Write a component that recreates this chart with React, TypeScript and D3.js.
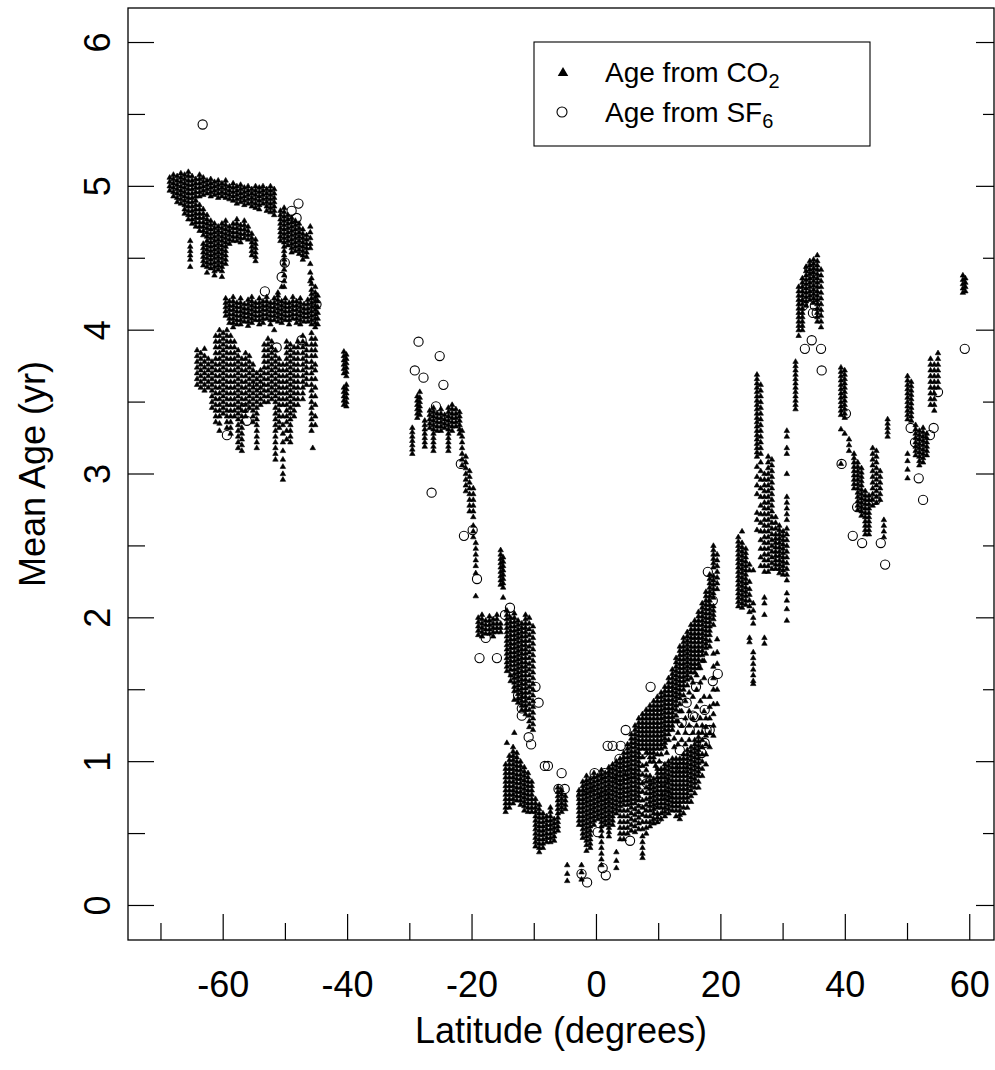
import React from "react";
import * as d3 from "d3";

const W = 995;
const H = 1070;
const frame = { left: 128, top: 8, right: 994, bottom: 940 };

const latDomain: [number, number] = [-75.3, 63.9];
const ageDomain: [number, number] = [-0.24, 6.24];

const latMajorTicks = [-60, -40, -20, 0, 20, 40, 60];
const latMinorTicks = [-70, -50, -30, -10, 10, 30, 50];
const ageMajorTicks = [0, 1, 2, 3, 4, 5, 6];
const ageMinorTicks = [0.5, 1.5, 2.5, 3.5, 4.5, 5.5];

// CO2-derived ages, one aircraft profile column per row: [latitude, ...ages]
const co2PolarUpper: number[][] = [
  [-68.6, 5.06, 5.03, 5.0, 4.97],
  [-68.0, 5.08, 5.05, 5.02, 4.99, 4.96, 4.93],
  [-67.4, 5.07, 5.04, 5.01, 4.98, 4.95, 4.92, 4.89],
  [-66.8, 5.09, 5.06, 5.03, 5.0, 4.97, 4.94, 4.91, 4.88],
  [-66.2, 5.08, 5.05, 5.02, 4.99, 4.96, 4.93, 4.9, 4.87, 4.84, 4.81],
  [-65.6, 5.1, 5.07, 5.04, 5.01, 4.98, 4.95, 4.92, 4.89, 4.86, 4.83, 4.8, 4.77],
  [-65.3, 4.62, 4.58, 4.55, 4.52, 4.49, 4.44],
  [-65.0, 5.07, 5.04, 5.01, 4.98, 4.95, 4.92, 4.89, 4.86, 4.83, 4.8, 4.77, 4.74],
  [-64.4, 5.05, 5.02, 4.99, 4.96, 4.93, 4.9, 4.87, 4.84, 4.81, 4.78, 4.75, 4.72],
  [-63.8, 5.08, 5.05, 5.02, 4.99, 4.96, 4.93, 4.87, 4.84, 4.81, 4.78, 4.75, 4.72, 4.69],
  [-63.2, 5.06, 5.03, 5.0, 4.97, 4.94, 4.84, 4.81, 4.78, 4.75, 4.72, 4.69, 4.66, 4.6, 4.57, 4.54, 4.51, 4.48, 4.45],
  [-62.6, 5.04, 5.01, 4.98, 4.95, 4.8, 4.77, 4.74, 4.71, 4.68, 4.65, 4.62, 4.59, 4.56, 4.53, 4.5, 4.47, 4.44, 4.4],
  [-62.0, 5.05, 5.02, 4.99, 4.96, 4.93, 4.76, 4.73, 4.7, 4.67, 4.64, 4.61, 4.58, 4.55, 4.52, 4.49, 4.46, 4.43],
  [-61.4, 5.03, 5.0, 4.97, 4.94, 4.74, 4.71, 4.68, 4.65, 4.62, 4.59, 4.56, 4.53, 4.5, 4.47, 4.44, 4.41, 4.38],
  [-60.8, 5.04, 5.01, 4.98, 4.95, 4.92, 4.72, 4.69, 4.66, 4.63, 4.6, 4.57, 4.54, 4.51, 4.48, 4.45, 4.42],
  [-60.2, 5.02, 4.99, 4.96, 4.93, 4.74, 4.71, 4.68, 4.65, 4.62, 4.59, 4.56, 4.53, 4.5, 4.47, 4.44, 4.41, 4.37],
  [-59.6, 5.04, 5.01, 4.98, 4.95, 4.92, 4.76, 4.73, 4.7, 4.67, 4.64, 4.61, 4.58, 4.55, 4.52, 4.49, 4.46],
  [-59.0, 5.0, 4.97, 4.94, 4.91, 4.72, 4.69, 4.66, 4.63, 4.6],
  [-58.4, 5.02, 4.99, 4.96, 4.93, 4.9, 4.74, 4.71, 4.68, 4.65, 4.62],
  [-57.8, 5.0, 4.97, 4.94, 4.91, 4.88, 4.77, 4.74, 4.71, 4.68, 4.65, 4.62],
  [-57.2, 5.01, 4.98, 4.95, 4.92, 4.89, 4.73, 4.7, 4.67, 4.64, 4.61],
  [-56.6, 4.99, 4.96, 4.93, 4.9, 4.87, 4.76, 4.73, 4.7, 4.67, 4.64],
  [-56.0, 5.0, 4.97, 4.94, 4.91, 4.88, 4.72, 4.69, 4.66, 4.63],
  [-55.4, 4.98, 4.95, 4.92, 4.89, 4.86, 4.67, 4.64, 4.61, 4.58, 4.55, 4.52],
  [-54.8, 5.0, 4.97, 4.94, 4.91, 4.88, 4.85, 4.63, 4.6, 4.57, 4.54, 4.51, 4.48],
  [-54.2, 4.99, 4.96, 4.93, 4.9, 4.87, 4.84],
  [-53.6, 5.0, 4.97, 4.94, 4.91, 4.88],
  [-53.0, 4.98, 4.95, 4.92, 4.89, 4.86, 4.83],
  [-52.4, 5.0, 4.97, 4.94, 4.91, 4.88, 4.85, 4.82],
  [-51.8, 4.98, 4.95, 4.92, 4.89, 4.86, 4.83, 4.8],
  [-50.8, 4.83, 4.8, 4.77, 4.74, 4.71, 4.68, 4.65, 4.62],
  [-50.2, 4.85, 4.82, 4.79, 4.76, 4.73, 4.7, 4.67, 4.64, 4.61, 4.58, 4.55, 4.52, 4.49, 4.46, 4.42, 4.38, 4.34, 4.3],
  [-49.6, 4.8, 4.77, 4.74, 4.71, 4.68, 4.65, 4.62, 4.59],
  [-49.0, 4.78, 4.75, 4.72, 4.69, 4.66, 4.63, 4.6, 4.57, 4.54],
  [-48.4, 4.76, 4.73, 4.7, 4.67, 4.64, 4.61, 4.58, 4.55],
  [-47.8, 4.74, 4.71, 4.68, 4.65, 4.62, 4.59, 4.56, 4.53],
  [-47.2, 4.7, 4.67, 4.64, 4.61, 4.58, 4.55, 4.52, 4.49],
  [-46.6, 4.66, 4.63, 4.6, 4.57, 4.54, 4.51],
  [-46.0, 4.72, 4.68, 4.64, 4.6, 4.57, 4.46, 4.4, 4.34],
];

const co2PolarLower: number[][] = [
  [-59.6, 4.22, 4.19, 4.16, 4.13, 4.1],
  [-59.0, 4.2, 4.17, 4.14, 4.11, 4.08, 4.05],
  [-58.4, 4.23, 4.2, 4.17, 4.14, 4.11, 4.08, 4.05, 4.02],
  [-57.8, 4.19, 4.16, 4.13, 4.1, 4.07, 4.04],
  [-57.2, 4.22, 4.19, 4.16, 4.13, 4.1, 4.07, 4.04],
  [-56.6, 4.18, 4.15, 4.12, 4.09, 4.06],
  [-56.0, 4.21, 4.18, 4.15, 4.12, 4.09, 4.06, 4.03],
  [-55.4, 4.23, 4.2, 4.17, 4.14, 4.11, 4.08, 4.05],
  [-54.8, 4.19, 4.16, 4.13, 4.1, 4.07],
  [-54.2, 4.22, 4.19, 4.16, 4.13, 4.1, 4.07, 4.04],
  [-53.6, 4.2, 4.17, 4.14, 4.11, 4.08, 4.05],
  [-53.0, 4.23, 4.2, 4.17, 4.14, 4.11, 4.08],
  [-52.4, 4.19, 4.16, 4.13, 4.1, 4.07, 4.04],
  [-51.8, 4.22, 4.19, 4.16, 4.13, 4.1, 4.07, 4.0],
  [-51.2, 4.26, 4.24, 4.21, 4.18, 4.15, 4.12, 4.09, 4.06],
  [-50.6, 4.3, 4.2, 4.17, 4.14, 4.11, 4.08, 4.05],
  [-50.0, 4.22, 4.19, 4.16, 4.13, 4.1, 4.07],
  [-49.4, 4.19, 4.16, 4.13, 4.1, 4.07, 4.04],
  [-48.8, 4.23, 4.2, 4.17, 4.14, 4.11, 4.08],
  [-48.2, 4.2, 4.17, 4.14, 4.11, 4.08, 4.05],
  [-47.6, 4.22, 4.19, 4.16, 4.13, 4.1, 4.07, 4.04],
  [-47.0, 4.18, 4.15, 4.12, 4.09, 4.06],
  [-46.4, 4.21, 4.18, 4.15, 4.12, 4.09, 4.06],
  [-45.8, 4.36, 4.32, 4.28, 4.25, 4.22, 4.19, 4.16, 4.13, 4.1, 4.07, 4.04],
  [-45.2, 4.3, 4.26, 4.23, 4.2, 4.17, 4.14, 4.11, 4.08, 4.05, 4.02],
  [-44.8, 4.24, 4.2, 4.16, 4.12, 4.08, 4.04],
  [-47.2, 3.96, 3.92, 3.88, 3.84, 3.8, 3.76, 3.72, 3.68, 3.64, 3.6, 3.56, 3.52],
  [-46.6, 3.9, 3.86, 3.82, 3.78, 3.74, 3.7, 3.66, 3.62],
  [-45.8, 3.98, 3.94, 3.9, 3.86, 3.82, 3.78, 3.74, 3.7, 3.66, 3.62, 3.58, 3.54, 3.5, 3.46, 3.42, 3.38, 3.34, 3.3],
  [-45.2, 3.94, 3.9, 3.86, 3.82, 3.76, 3.72, 3.66, 3.6, 3.54, 3.48, 3.4, 3.34],
  [-45.6, 3.18],
  [-64.2, 3.86, 3.82, 3.78, 3.74, 3.7, 3.66, 3.62],
  [-63.6, 3.84, 3.8, 3.76, 3.72, 3.68, 3.64, 3.6],
  [-63.0, 3.87, 3.82, 3.78, 3.74, 3.7, 3.66, 3.62, 3.58],
  [-62.4, 3.8, 3.76, 3.72, 3.68, 3.64, 3.6],
  [-61.8, 3.78, 3.74, 3.7, 3.66, 3.62, 3.58, 3.54, 3.5, 3.46],
  [-61.2, 3.96, 3.92, 3.88, 3.84, 3.8, 3.76, 3.72, 3.68, 3.64, 3.6, 3.56, 3.52, 3.48, 3.44, 3.4, 3.36],
  [-60.6, 4.0, 3.96, 3.92, 3.88, 3.84, 3.8, 3.76, 3.72, 3.68, 3.64, 3.6, 3.56, 3.52, 3.48, 3.44, 3.4, 3.35, 3.3],
  [-60.0, 3.98, 3.94, 3.9, 3.86, 3.82, 3.78, 3.74, 3.7, 3.66, 3.62, 3.58, 3.54, 3.5, 3.46, 3.42],
  [-59.4, 4.0, 3.96, 3.92, 3.88, 3.84, 3.8, 3.76, 3.72, 3.68, 3.64, 3.6, 3.56, 3.52, 3.48, 3.44, 3.4, 3.36, 3.32],
  [-58.8, 3.96, 3.92, 3.88, 3.84, 3.8, 3.76, 3.72, 3.68, 3.64, 3.6, 3.56, 3.52, 3.48, 3.44, 3.4, 3.36, 3.32, 3.28],
  [-58.2, 3.92, 3.88, 3.84, 3.8, 3.76, 3.72, 3.68, 3.64, 3.6, 3.56, 3.52, 3.48, 3.44, 3.4],
  [-57.6, 3.86, 3.82, 3.78, 3.74, 3.7, 3.66, 3.62, 3.58, 3.54, 3.5, 3.46, 3.42, 3.38, 3.34, 3.3, 3.26, 3.22, 3.18],
  [-57.0, 3.8, 3.76, 3.72, 3.68, 3.64, 3.6, 3.56, 3.52, 3.48, 3.44, 3.4, 3.36, 3.32, 3.28, 3.24, 3.2, 3.16],
  [-56.4, 3.84, 3.8, 3.76, 3.72, 3.68, 3.64, 3.6, 3.56, 3.52, 3.48, 3.44, 3.4],
  [-55.8, 3.82, 3.78, 3.74, 3.7, 3.66, 3.62, 3.58, 3.54, 3.5, 3.46],
  [-55.2, 3.76, 3.72, 3.68, 3.64, 3.6, 3.56, 3.52, 3.48, 3.44, 3.4, 3.36],
  [-54.6, 3.7, 3.66, 3.62, 3.58, 3.54, 3.5, 3.46, 3.42, 3.38, 3.34, 3.3, 3.26, 3.22, 3.18],
  [-54.0, 3.72, 3.68, 3.64, 3.6, 3.56, 3.52, 3.48],
  [-53.4, 3.9, 3.86, 3.82, 3.78, 3.74, 3.7, 3.66, 3.62, 3.58, 3.54, 3.5],
  [-52.8, 3.94, 3.9, 3.86, 3.82, 3.78, 3.74, 3.7, 3.66, 3.62, 3.58, 3.54, 3.5],
  [-52.2, 3.92, 3.88, 3.84, 3.8, 3.76, 3.72, 3.68, 3.64, 3.6, 3.56, 3.52],
  [-51.6, 3.86, 3.82, 3.78, 3.74, 3.7, 3.66, 3.62, 3.58, 3.54, 3.5, 3.46, 3.42, 3.38, 3.34, 3.3, 3.26, 3.22, 3.18, 3.14, 3.1],
  [-51.0, 3.8, 3.76, 3.72, 3.68, 3.64, 3.6, 3.56, 3.52, 3.48, 3.44, 3.4, 3.36, 3.32],
  [-50.4, 3.76, 3.72, 3.68, 3.64, 3.6, 3.56, 3.52, 3.48, 3.4, 3.34, 3.28, 3.22, 3.16, 3.1, 3.05, 3.0, 2.96],
  [-49.8, 3.92, 3.88, 3.84, 3.8, 3.76, 3.72, 3.68, 3.64, 3.6, 3.56, 3.52, 3.48, 3.44, 3.4, 3.36, 3.3, 3.24],
  [-49.2, 3.9, 3.86, 3.82, 3.78, 3.74, 3.7, 3.66, 3.62, 3.58, 3.54, 3.5, 3.46, 3.42, 3.38, 3.34, 3.3, 3.26, 3.22],
  [-48.6, 3.88, 3.84, 3.8, 3.76, 3.72, 3.68, 3.64, 3.6, 3.56, 3.52, 3.48, 3.44, 3.4],
  [-48.0, 3.92, 3.88, 3.84, 3.8, 3.76, 3.72, 3.68, 3.64, 3.6, 3.56, 3.52, 3.48],
  [-40.6, 3.85, 3.82, 3.79, 3.76, 3.73, 3.7, 3.6, 3.57, 3.54, 3.51, 3.48],
  [-40.2, 3.83, 3.8, 3.77, 3.74, 3.71, 3.68, 3.62, 3.59, 3.56, 3.53, 3.5, 3.47],
];

const co2Subtropics: number[][] = [
  [-29.6, 3.32, 3.29, 3.26, 3.23, 3.2, 3.17, 3.14],
  [-28.8, 3.54, 3.51, 3.48, 3.45, 3.42, 3.39],
  [-28.4, 3.57, 3.53, 3.5, 3.47, 3.44, 3.41],
  [-27.6, 3.37, 3.34, 3.31, 3.28, 3.25, 3.22, 3.19],
  [-26.8, 3.44, 3.41, 3.38, 3.35, 3.32],
  [-26.2, 3.46, 3.43, 3.4, 3.37, 3.34, 3.31, 3.28, 3.25, 3.22, 3.19, 3.16],
  [-25.6, 3.42, 3.39, 3.36, 3.33, 3.3],
  [-25.0, 3.45, 3.42, 3.39, 3.36, 3.33, 3.3],
  [-24.4, 3.41, 3.38, 3.35, 3.32],
  [-23.8, 3.46, 3.43, 3.4, 3.37, 3.34, 3.31, 3.28, 3.25, 3.22, 3.19, 3.16],
  [-23.2, 3.48, 3.45, 3.42, 3.39, 3.36, 3.33, 3.3],
  [-22.6, 3.45, 3.42, 3.39, 3.36, 3.33],
  [-22.0, 3.43, 3.4, 3.37, 3.34, 3.31, 3.28],
  [-21.6, 3.3, 3.26, 3.22, 3.18, 3.14, 3.1, 3.06],
  [-21.0, 3.12, 3.08, 3.04, 3.0, 2.96, 2.92, 2.88],
  [-20.4, 3.02, 2.98, 2.94, 2.9, 2.86, 2.82, 2.78, 2.74],
  [-19.8, 2.9, 2.86, 2.82, 2.78, 2.74, 2.7, 2.64, 2.6, 2.56],
  [-19.4, 2.52, 2.48, 2.44, 2.4, 2.36, 2.31, 2.15],
  [-15.4, 2.47, 2.44, 2.41, 2.38, 2.35, 2.32, 2.29, 2.26, 2.23, 1.96, 1.93, 1.9],
  [-15.0, 2.42, 2.39, 2.36, 2.33, 2.3, 2.27, 2.24, 2.21, 2.14],
  [-19.0, 2.0, 1.97, 1.94, 1.91, 1.88],
  [-18.4, 2.02, 1.99, 1.96, 1.93, 1.9, 1.87],
  [-17.8, 1.98, 1.95, 1.92, 1.89],
  [-17.2, 2.01, 1.98, 1.95, 1.92, 1.89],
  [-16.6, 1.99, 1.96, 1.93, 1.9, 1.87],
  [-16.0, 2.02, 1.99, 1.96, 1.93, 1.9],
];

const co2TropicsSouth: number[][] = [
  [-14.4, 2.05, 2.02, 1.99, 1.96, 1.93, 1.9, 1.87, 1.84, 1.81, 1.78, 1.75, 1.72, 1.69, 1.66, 1.63, 1.13],
  [-13.8, 2.0, 1.97, 1.94, 1.91, 1.88, 1.85, 1.82, 1.79, 1.76, 1.73, 1.7, 1.67, 1.64, 1.6, 1.56],
  [-13.2, 2.03, 2.0, 1.97, 1.94, 1.91, 1.88, 1.85, 1.82, 1.79, 1.76, 1.73, 1.7, 1.67, 1.64, 1.61, 1.58, 1.55, 1.52, 1.49, 1.43, 1.2],
  [-12.6, 1.98, 1.95, 1.92, 1.89, 1.86, 1.83, 1.8, 1.77, 1.74, 1.71, 1.68, 1.65, 1.62, 1.59, 1.56, 1.53, 1.5, 1.47, 1.44, 1.41],
  [-12.0, 1.96, 1.93, 1.9, 1.87, 1.84, 1.81, 1.78, 1.75, 1.72, 1.69, 1.66, 1.63, 1.6, 1.57, 1.54, 1.51, 1.48, 1.45, 1.42, 1.39, 1.36],
  [-11.4, 2.02, 1.99, 1.96, 1.93, 1.9, 1.87, 1.84, 1.81, 1.78, 1.75, 1.72, 1.69, 1.66, 1.63, 1.6, 1.57, 1.54, 1.51, 1.48, 1.45, 1.42, 1.39, 1.36, 1.33],
  [-10.8, 2.0, 1.96, 1.92, 1.88, 1.84, 1.8, 1.76, 1.72, 1.68, 1.64, 1.6, 1.56, 1.52, 1.48, 1.44, 1.4, 1.36, 1.32, 1.28, 1.24],
  [-10.2, 1.94, 1.9, 1.86, 1.82, 1.78, 1.74, 1.7, 1.66, 1.62, 1.58, 1.54, 1.5, 1.46, 1.42, 1.38, 1.34, 1.3, 1.26, 1.22],
  [-14.6, 0.98, 0.95, 0.92, 0.89, 0.86, 0.83, 0.8, 0.77, 0.74, 0.71, 0.68, 0.65],
  [-14.0, 1.04, 1.01, 0.98, 0.95, 0.92, 0.89, 0.86, 0.83, 0.8, 0.77, 0.74, 0.71, 0.68],
  [-13.4, 1.1, 1.07, 1.04, 1.01, 0.98, 0.95, 0.92, 0.89, 0.86, 0.83, 0.8, 0.77, 0.74, 0.71],
  [-12.8, 1.06, 1.03, 1.0, 0.97, 0.94, 0.91, 0.88, 0.85, 0.82, 0.79, 0.76, 0.73],
  [-12.2, 1.0, 0.97, 0.94, 0.91, 0.88, 0.85, 0.82, 0.79, 0.76, 0.73, 0.7],
  [-11.6, 0.96, 0.93, 0.9, 0.87, 0.84, 0.81, 0.78, 0.75, 0.72, 0.69, 0.66],
  [-11.0, 0.92, 0.89, 0.86, 0.83, 0.8, 0.77, 0.74, 0.71, 0.68, 0.65],
  [-10.4, 0.86, 0.83, 0.8, 0.77, 0.74, 0.71, 0.68, 0.65],
  [-9.8, 0.74, 0.71, 0.68, 0.65, 0.62, 0.59, 0.56, 0.53, 0.5, 0.47, 0.44, 0.41],
  [-9.2, 0.7, 0.67, 0.64, 0.61, 0.58, 0.55, 0.52, 0.49, 0.46, 0.43, 0.4, 0.37],
  [-8.6, 0.64, 0.61, 0.58, 0.55, 0.52, 0.49, 0.46, 0.43, 0.4],
  [-8.0, 0.62, 0.59, 0.56, 0.53, 0.5, 0.47, 0.44],
  [-7.4, 0.68, 0.65, 0.62, 0.59, 0.56, 0.53, 0.5, 0.47, 0.44],
  [-6.8, 0.6, 0.57, 0.54, 0.51, 0.48, 0.45],
  [-6.2, 0.82, 0.79, 0.76, 0.73, 0.7, 0.67, 0.64, 0.61, 0.58, 0.55, 0.52],
  [-5.6, 0.8, 0.77, 0.74, 0.71, 0.68, 0.65],
  [-5.0, 0.76, 0.73, 0.7, 0.67],
  [-4.7, 0.28, 0.22, 0.17],
];

const co2Equator: number[][] = [
  [-2.8, 0.8, 0.77, 0.74, 0.71, 0.68, 0.65, 0.62, 0.59, 0.56],
  [-2.4, 0.28, 0.23, 0.18],
  [-2.2, 0.86, 0.83, 0.8, 0.77, 0.74, 0.71, 0.68, 0.65, 0.62, 0.59, 0.56, 0.53, 0.5, 0.47],
  [-1.6, 0.9, 0.87, 0.84, 0.81, 0.78, 0.75, 0.72, 0.69, 0.66, 0.63, 0.6, 0.57, 0.54, 0.51, 0.48, 0.45, 0.42, 0.38],
  [-1.0, 0.88, 0.85, 0.82, 0.79, 0.76, 0.73, 0.7, 0.67, 0.64, 0.61, 0.58, 0.55, 0.52, 0.49, 0.46, 0.43, 0.4],
  [-0.4, 0.92, 0.89, 0.86, 0.83, 0.8, 0.77, 0.74, 0.71, 0.68, 0.65, 0.62, 0.59, 0.56],
  [0.2, 0.9, 0.87, 0.84, 0.81, 0.78, 0.75, 0.72, 0.69, 0.66, 0.63, 0.6],
  [0.8, 0.94, 0.91, 0.88, 0.85, 0.82, 0.79, 0.76, 0.73, 0.7, 0.67, 0.64, 0.61, 0.58, 0.55, 0.52, 0.48, 0.44, 0.4, 0.36, 0.32, 0.28],
  [1.4, 0.92, 0.89, 0.86, 0.83, 0.8, 0.77, 0.74, 0.71, 0.68, 0.65, 0.62, 0.59, 0.56],
  [2.0, 0.96, 0.93, 0.9, 0.87, 0.84, 0.81, 0.78, 0.75, 0.72, 0.69, 0.66, 0.63, 0.6, 0.57, 0.54, 0.51, 0.48],
  [2.6, 0.98, 0.95, 0.92, 0.89, 0.86, 0.83, 0.8, 0.77, 0.74, 0.71, 0.68, 0.65, 0.62, 0.59, 0.56],
  [3.2, 1.0, 0.97, 0.94, 0.91, 0.88, 0.85, 0.82, 0.79, 0.76, 0.73, 0.7, 0.67, 0.64, 0.37, 0.31, 0.26],
];

const co2TropicsNorth: number[][] = [
  [3.8, 1.02, 0.99, 0.96, 0.93, 0.9, 0.87, 0.84, 0.81, 0.78, 0.75, 0.72, 0.69, 0.66, 0.62, 0.58, 0.54, 0.5, 0.46],
  [4.4, 1.06, 1.03, 1.0, 0.97, 0.94, 0.91, 0.88, 0.85, 0.82, 0.79, 0.76, 0.73, 0.7, 0.66, 0.62, 0.58, 0.54, 0.5, 0.46],
  [5.0, 1.12, 1.09, 1.06, 1.03, 1.0, 0.97, 0.94, 0.91, 0.88, 0.85, 0.82, 0.79, 0.76, 0.73, 0.7, 0.66, 0.62, 0.58, 0.54, 0.5],
  [5.6, 1.19, 1.16, 1.13, 1.1, 1.07, 1.04, 1.01, 0.98, 0.95, 0.92, 0.89, 0.86, 0.83, 0.8, 0.77, 0.74, 0.71, 0.68, 0.64, 0.6, 0.56, 0.52],
  [6.2, 1.25, 1.22, 1.19, 1.16, 1.13, 1.1, 1.07, 1.04, 1.01, 0.98, 0.95, 0.92, 0.89, 0.86, 0.83, 0.8, 0.77, 0.74, 0.71, 0.67, 0.63, 0.59, 0.55, 0.51],
  [6.8, 1.3, 1.27, 1.24, 1.21, 1.18, 1.15, 1.12, 1.09, 1.06, 1.03, 1.0, 0.97, 0.94, 0.91, 0.88, 0.85, 0.82, 0.79, 0.76, 0.73, 0.69, 0.65, 0.61, 0.57, 0.53],
  [7.4, 1.33, 1.3, 1.27, 1.24, 1.21, 1.18, 1.15, 1.12, 1.09, 1.03, 0.97, 0.91, 0.85, 0.79, 0.73, 0.68, 0.63, 0.58, 0.53, 0.48, 0.44, 0.4, 0.36, 0.33],
  [8.0, 1.36, 1.33, 1.3, 1.27, 1.24, 1.21, 1.18, 1.15, 1.12, 1.09, 1.06, 0.98, 0.94, 0.9, 0.86, 0.82, 0.78, 0.74, 0.7, 0.66, 0.62, 0.58, 0.54, 0.5],
  [8.6, 1.39, 1.36, 1.33, 1.3, 1.27, 1.24, 1.21, 1.18, 1.15, 1.12, 1.09, 1.06, 1.03, 1.0, 0.9, 0.87, 0.84, 0.81, 0.78, 0.75, 0.72, 0.69, 0.66, 0.62, 0.58, 0.55],
  [9.2, 1.42, 1.39, 1.36, 1.33, 1.3, 1.27, 1.24, 1.21, 1.18, 1.15, 1.12, 1.09, 1.06, 1.03, 1.0, 0.88, 0.85, 0.82, 0.79, 0.76, 0.73, 0.7, 0.67, 0.64, 0.6, 0.57],
  [9.8, 1.45, 1.42, 1.39, 1.36, 1.33, 1.3, 1.27, 1.24, 1.21, 1.18, 1.15, 1.12, 1.09, 1.05, 0.95, 0.92, 0.89, 0.86, 0.83, 0.8, 0.77, 0.74, 0.71, 0.68, 0.64, 0.61, 0.58],
  [10.4, 1.48, 1.45, 1.42, 1.39, 1.36, 1.33, 1.3, 1.27, 1.24, 1.21, 1.18, 1.15, 1.12, 1.09, 1.05, 0.95, 0.92, 0.89, 0.86, 0.83, 0.8, 0.77, 0.74, 0.71, 0.68, 0.64, 0.6],
  [11.0, 1.52, 1.49, 1.46, 1.43, 1.4, 1.37, 1.34, 1.31, 1.28, 1.25, 1.22, 1.19, 1.16, 1.13, 1.1, 0.98, 0.95, 0.92, 0.89, 0.86, 0.83, 0.8, 0.77, 0.74, 0.71, 0.68, 0.65, 0.62],
  [11.6, 1.58, 1.55, 1.52, 1.49, 1.46, 1.43, 1.4, 1.37, 1.34, 1.31, 1.28, 1.25, 1.22, 1.19, 1.15, 1.0, 0.97, 0.94, 0.91, 0.88, 0.85, 0.82, 0.79, 0.76, 0.73, 0.7, 0.67, 0.64],
  [12.2, 1.64, 1.61, 1.58, 1.55, 1.52, 1.49, 1.46, 1.43, 1.4, 1.37, 1.34, 1.31, 1.28, 1.25, 1.22, 1.02, 0.99, 0.96, 0.93, 0.9, 0.87, 0.84, 0.81, 0.78, 0.75, 0.72, 0.69, 0.66],
  [12.8, 1.72, 1.69, 1.66, 1.63, 1.6, 1.57, 1.54, 1.51, 1.48, 1.45, 1.42, 1.39, 1.36, 1.32, 1.28, 1.02, 0.99, 0.96, 0.93, 0.9, 0.87, 0.84, 0.81, 0.78, 0.75, 0.72, 0.69, 0.66, 0.62],
  [13.4, 1.8, 1.77, 1.74, 1.71, 1.68, 1.65, 1.62, 1.59, 1.56, 1.53, 1.5, 1.47, 1.44, 1.4, 1.35, 1.02, 0.99, 0.96, 0.93, 0.9, 0.87, 0.84, 0.81, 0.78, 0.75, 0.72, 0.69, 0.66, 0.63, 0.6],
  [14.0, 1.86, 1.83, 1.8, 1.77, 1.74, 1.71, 1.68, 1.65, 1.62, 1.59, 1.56, 1.53, 1.5, 1.46, 1.05, 1.02, 0.99, 0.96, 0.93, 0.9, 0.87, 0.84, 0.81, 0.78, 0.75, 0.72, 0.68, 0.64],
  [14.6, 1.9, 1.87, 1.84, 1.81, 1.78, 1.75, 1.72, 1.69, 1.66, 1.63, 1.6, 1.57, 1.53, 1.08, 1.05, 1.02, 0.99, 0.96, 0.93, 0.9, 0.87, 0.84, 0.81, 0.78, 0.75, 0.72, 0.68],
  [15.2, 1.95, 1.92, 1.89, 1.86, 1.83, 1.8, 1.77, 1.74, 1.71, 1.68, 1.65, 1.62, 1.58, 1.1, 1.07, 1.04, 1.01, 0.98, 0.95, 0.92, 0.89, 0.86, 0.83, 0.8, 0.76, 0.72],
  [15.8, 1.98, 1.95, 1.92, 1.89, 1.86, 1.83, 1.8, 1.77, 1.74, 1.71, 1.68, 1.65, 1.62, 1.15, 1.12, 1.09, 1.06, 1.03, 1.0, 0.97, 0.94, 0.91, 0.88, 0.85, 0.82, 0.78],
  [16.4, 2.04, 2.01, 1.98, 1.95, 1.92, 1.89, 1.86, 1.83, 1.8, 1.77, 1.74, 1.71, 1.68, 1.65, 1.2, 1.17, 1.14, 1.11, 1.08, 1.05, 1.02, 0.99, 0.96, 0.93, 0.9, 0.86, 0.82],
  [17.0, 2.1, 2.07, 2.04, 2.01, 1.98, 1.95, 1.92, 1.89, 1.86, 1.83, 1.8, 1.77, 1.74, 1.7, 1.25, 1.2, 1.15, 1.1, 1.05, 1.0, 0.95, 0.9],
  [17.6, 2.18, 2.15, 2.12, 2.09, 2.06, 2.03, 2.0, 1.97, 1.94, 1.91, 1.88, 1.85, 1.82, 1.79, 1.75, 1.3, 1.24, 1.18, 1.12, 1.05, 0.98],
  [18.2, 2.3, 2.27, 2.24, 2.21, 2.18, 2.15, 2.12, 2.09, 2.06, 2.03, 2.0, 1.97, 1.94, 1.91, 1.88, 1.84, 1.8, 1.45, 1.38, 1.3, 1.2, 1.1],
  [18.8, 2.5, 2.47, 2.44, 2.41, 2.38, 2.35, 2.29, 2.26, 2.23, 2.2, 2.17, 2.14, 2.08, 2.05, 2.02, 1.99, 1.95, 1.75, 1.66, 1.58, 1.5, 1.4, 1.33, 1.25, 1.18],
  [19.4, 2.44, 2.4, 2.36, 2.32, 2.28, 2.24, 2.2, 1.85, 1.76, 1.68, 1.5, 1.4],
  // scattered profiles between the two branches
  [9.5, 0.97],
  [10.1, 1.0],
  [11.3, 1.06],
  [12.5, 1.1, 1.16],
  [13.1, 1.12, 1.2, 1.28],
  [13.7, 1.15, 1.25, 1.35],
  [14.3, 1.12, 1.2, 1.3, 1.42],
  [14.9, 1.15, 1.25, 1.35, 1.48],
  [15.5, 1.2, 1.3, 1.45, 1.55],
  [16.1, 1.25, 1.38, 1.5, 1.6],
  [16.7, 1.3, 1.42, 1.55, 1.65],
  [17.3, 1.35, 1.45, 1.58, 1.7],
];

const co2North: number[][] = [
  [22.8, 2.56, 2.53, 2.5, 2.47, 2.44, 2.41, 2.38, 2.35, 2.32, 2.29, 2.26, 2.23, 2.2, 2.17, 2.14, 2.11, 2.08],
  [23.4, 2.6, 2.52, 2.49, 2.46, 2.43, 2.4, 2.37, 2.34, 2.31, 2.28, 2.25, 2.22, 2.19, 2.16, 2.13, 2.1, 2.07],
  [24.0, 2.48, 2.45, 2.42, 2.39, 2.36, 2.33, 2.3, 2.27, 2.24, 2.21, 2.18, 2.15, 2.12, 2.09],
  [24.6, 2.37, 2.33, 2.25, 2.2, 2.16, 2.12, 2.08, 2.04, 1.86, 1.83],
  [25.2, 2.33, 2.1, 2.05, 2.0, 1.96, 1.76, 1.72, 1.68, 1.64, 1.6, 1.56, 1.54],
  [25.8, 3.69, 3.66, 3.63, 3.6, 3.57, 3.54, 3.51, 3.48, 3.45, 3.42, 3.39, 3.36, 3.33, 3.3, 3.27, 3.24, 3.21, 3.18, 3.15, 3.12, 3.05, 2.98, 2.92, 2.86, 2.73, 2.68, 2.61],
  [26.4, 3.62, 3.58, 3.54, 3.5, 3.46, 3.42, 3.38, 3.34, 3.3, 3.26, 3.22, 3.18, 3.14, 3.08, 3.02, 2.96, 2.9, 2.84, 2.78, 2.72, 2.66, 2.6, 2.54, 2.48, 2.42, 2.36],
  [27.0, 3.0, 2.96, 2.92, 2.88, 2.84, 2.8, 2.76, 2.72, 2.68, 2.64, 2.6, 2.56, 2.52, 2.48, 2.44, 2.4, 2.36, 2.32, 2.14, 2.1, 2.02, 1.86, 1.82],
  [27.6, 3.12, 3.08, 3.04, 3.0, 2.96, 2.92, 2.88, 2.84, 2.8, 2.76, 2.72, 2.68, 2.64, 2.6, 2.56, 2.52, 2.48, 2.44, 2.4, 2.36, 2.32],
  [28.2, 3.1, 3.06, 3.02, 2.98, 2.94, 2.9, 2.86, 2.82, 2.78, 2.74, 2.7, 2.66, 2.62, 2.58, 2.54, 2.5, 2.46, 2.42, 2.38, 2.34],
  [28.8, 2.7, 2.66, 2.62, 2.58, 2.55, 2.52, 2.49, 2.46, 2.43, 2.4, 2.37, 2.34],
  [29.4, 2.64, 2.61, 2.58, 2.55, 2.52, 2.49, 2.46, 2.43, 2.4, 2.37, 2.34, 2.31],
  [30.0, 2.6, 2.57, 2.54, 2.51, 2.48, 2.45, 2.42, 2.39, 2.36, 2.33, 2.3],
  [30.6, 3.3, 3.26, 3.18, 3.14, 3.0, 2.84, 2.8, 2.76, 2.72, 2.68, 2.62, 2.58, 2.54, 2.5, 2.46, 2.42, 2.38, 2.34, 2.3, 2.26, 2.17, 2.12, 2.06, 1.98],
  [32.0, 3.78, 3.75, 3.72, 3.69, 3.66, 3.63, 3.6, 3.57, 3.54, 3.51, 3.48, 3.45],
  [32.5, 4.3, 4.27, 4.24, 4.21, 4.18, 4.15, 4.12, 4.09, 4.06, 4.03, 4.0, 3.96],
  [33.1, 4.36, 4.33, 4.3, 4.27, 4.24, 4.21, 4.18, 4.15, 4.12, 4.09, 4.06, 4.03, 4.0],
  [33.7, 4.44, 4.41, 4.38, 4.35, 4.32, 4.29, 4.26, 4.23, 4.2, 4.17],
  [34.3, 4.48, 4.45, 4.42, 4.39, 4.36, 4.33, 4.3, 4.27, 4.24, 4.21],
  [34.9, 4.49, 4.46, 4.43, 4.4, 4.37, 4.34, 4.31, 4.28, 4.25, 4.22, 4.19],
  [35.5, 4.52, 4.48, 4.45, 4.42, 4.39, 4.36, 4.33, 4.3, 4.27, 4.24, 4.21, 4.18, 4.15, 4.12, 4.09, 4.06],
  [36.1, 4.42, 4.38, 4.34, 4.3, 4.26, 4.22, 4.18, 4.14, 4.1, 4.06, 4.02],
  [39.3, 3.74, 3.71, 3.68, 3.65, 3.62, 3.59, 3.56, 3.53, 3.5, 3.47, 3.44, 3.41, 3.31, 3.07],
  [39.9, 3.72, 3.69, 3.66, 3.63, 3.6, 3.57, 3.54, 3.51, 3.48, 3.45, 3.42, 3.39, 3.28],
  [40.6, 3.24, 3.2, 3.16],
  [41.4, 3.14, 3.11, 3.08, 3.05, 3.02, 2.99, 2.96, 2.93, 2.9],
  [42.0, 3.08, 3.05, 3.02, 2.99, 2.96, 2.93, 2.9, 2.87, 2.84, 2.81, 2.78, 2.75],
  [42.6, 3.04, 3.01, 2.98, 2.95, 2.92, 2.89, 2.86, 2.83, 2.8, 2.77, 2.74, 2.71],
  [43.2, 2.88, 2.85, 2.82, 2.79, 2.76, 2.73, 2.7, 2.67, 2.64, 2.61, 2.58],
  [43.8, 2.85, 2.82, 2.79, 2.76, 2.73, 2.7, 2.67, 2.64, 2.61, 2.58],
  [44.4, 3.18, 3.14, 3.1, 3.06, 3.02, 2.98, 2.94, 2.9, 2.86, 2.82, 2.78],
  [45.0, 3.16, 3.12, 3.08, 3.04, 3.0, 2.96, 2.92, 2.88, 2.84, 2.8],
  [45.6, 3.02, 2.98, 2.94, 2.9, 2.86, 2.82],
  [46.2, 2.68, 2.64, 2.6, 2.56],
  [46.8, 3.38, 3.35, 3.32, 3.29, 3.26],
  [50.0, 3.68, 3.65, 3.62, 3.59, 3.56, 3.53, 3.5, 3.47, 3.44, 3.41, 3.38, 3.14, 3.09, 3.03, 2.97],
  [50.6, 3.64, 3.61, 3.58, 3.55, 3.52, 3.49, 3.46, 3.43, 3.4, 3.37],
  [51.3, 3.34, 3.31, 3.28, 3.25, 3.22, 3.19, 3.16, 3.13],
  [51.9, 3.3, 3.27, 3.24, 3.21, 3.18, 3.15, 3.12, 3.09, 3.06],
  [52.5, 3.32, 3.29, 3.26, 3.23, 3.2, 3.17, 3.14, 3.11, 3.08],
  [53.1, 3.28, 3.25, 3.22, 3.19, 3.16, 3.13],
  [53.7, 3.8, 3.76, 3.72, 3.68, 3.64, 3.6, 3.56, 3.52, 3.48],
  [54.3, 3.76, 3.72, 3.68, 3.64, 3.6, 3.56, 3.52, 3.48, 3.44],
  [54.9, 3.84, 3.8, 3.76, 3.72, 3.68, 3.64, 3.6],
  [58.9, 4.38, 4.35, 4.32, 4.29, 4.26],
  [59.3, 4.36, 4.33, 4.3, 4.27],
];

// SF6-derived ages: [latitude, age]
const sf6South: number[][] = [
  [-63.3, 5.43], [-47.9, 4.88], [-49.0, 4.83], [-48.2, 4.78], [-50.1, 4.47], [-50.6, 4.37],
  [-53.3, 4.27], [-45.0, 4.18], [-47.4, 3.93], [-51.4, 3.88], [-54.4, 3.62], [-56.5, 3.46],
  [-56.2, 3.37], [-59.4, 3.27],
  [-28.6, 3.92], [-25.2, 3.82], [-29.2, 3.72], [-27.8, 3.67], [-24.6, 3.62], [-25.8, 3.47],
  [-21.8, 3.07], [-26.5, 2.87], [-19.9, 2.61], [-21.3, 2.57], [-19.2, 2.27], [-13.9, 2.07],
  [-14.7, 2.02], [-17.8, 1.86], [-18.8, 1.72], [-16.0, 1.72], [-13.3, 1.61], [-12.6, 1.46],
  [-9.8, 1.52], [-9.3, 1.41], [-12.0, 1.37], [-12.0, 1.32], [-10.9, 1.17], [-10.5, 1.12],
  [-8.3, 0.97], [-7.8, 0.97], [-5.6, 0.92], [-6.1, 0.81], [-5.1, 0.81],
];

const sf6Tropics: number[][] = [
  [-2.4, 0.22], [-1.5, 0.16], [1.5, 0.21], [1.0, 0.26], [0.2, 0.51], [-2.4, 0.76],
  [-1.4, 0.82], [-0.3, 0.92], [1.3, 0.92], [2.6, 0.92], [1.8, 1.11], [2.6, 1.11],
  [3.9, 1.11], [3.7, 1.02], [4.7, 1.22], [8.7, 1.52], [16.0, 1.52], [14.5, 1.41],
  [17.4, 1.36], [15.5, 1.32], [13.7, 1.27], [15.0, 1.22], [17.7, 1.22], [17.4, 1.13],
  [16.9, 1.06], [13.4, 1.08], [13.7, 0.96], [10.7, 0.87], [8.1, 0.85], [11.3, 0.77],
  [5.4, 0.92], [10.2, 0.97], [15.8, 1.31], [18.2, 1.22], [19.5, 1.61], [18.7, 1.56],
  [9.7, 0.6], [9.9, 0.66], [7.0, 0.67], [5.4, 0.45], [7.5, 1.06], [3.7, 0.87],
  [1.2, 0.76], [17.9, 2.32], [18.7, 2.12],
];

const sf6North: number[][] = [
  [34.2, 4.43], [33.2, 4.17], [35.1, 4.17], [34.8, 4.12], [35.4, 4.12], [34.6, 3.93],
  [33.5, 3.87], [36.1, 3.87], [36.2, 3.72], [40.1, 3.42], [39.4, 3.07], [41.9, 2.77],
  [41.2, 2.57], [42.7, 2.52], [45.7, 2.52], [46.4, 2.37], [44.9, 2.82], [50.5, 3.32],
  [51.2, 3.22], [51.8, 2.97], [52.5, 2.82], [53.6, 3.27], [54.2, 3.32], [54.9, 3.57],
  [59.2, 3.87],
];

const FONT = "'Liberation Sans', Arial, Helvetica, sans-serif";

type Pt = { lat: number; age: number };

const fromColumns = (cols: number[][]): Pt[] =>
  cols.flatMap(([lat, ...ages]) => ages.map((age) => ({ lat, age })));
const fromPairs = (pairs: number[][]): Pt[] => pairs.map(([lat, age]) => ({ lat, age }));

export default function App() {
  const x = d3.scaleLinear().domain(latDomain).range([frame.left, frame.right]);
  const y = d3.scaleLinear().domain(ageDomain).range([frame.bottom, frame.top]);

  const co2 = [
    co2PolarUpper,
    co2PolarLower,
    co2Subtropics,
    co2TropicsSouth,
    co2Equator,
    co2TropicsNorth,
    co2North,
  ].flatMap(fromColumns);
  const sf6 = [sf6South, sf6Tropics, sf6North].flatMap(fromPairs);

  const triangle = d3.symbol().type(d3.symbolTriangle).size(13)() as string;
  const legendTriangle = d3.symbol().type(d3.symbolTriangle).size(48)() as string;

  const majorLen = 26;
  const minorLen = 17;
  const rightMajor = 18;
  const rightMinor = 11;

  return (
    <svg
      width={W}
      height={H}
      viewBox={`0 0 ${W} ${H}`}
      style={{ position: "absolute", left: 0, top: 0, background: "#fff" }}
    >
      <rect x={0} y={0} width={W} height={H} fill="#fff" />

      {/* CO2 ages */}
      <g fill="#000" stroke="#000" strokeWidth={0.6}>
        {co2.map((p, i) => (
          <path key={i} d={triangle} transform={`translate(${x(p.lat)},${y(p.age)})`} />
        ))}
      </g>

      {/* SF6 ages */}
      <g fill="none" stroke="#000" strokeWidth={1.1}>
        {sf6.map((p, i) => (
          <circle key={i} cx={x(p.lat)} cy={y(p.age)} r={4.6} />
        ))}
      </g>

      {/* frame */}
      <rect
        x={frame.left}
        y={frame.top}
        width={frame.right - frame.left}
        height={frame.bottom - frame.top}
        fill="none"
        stroke="#000"
        strokeWidth={1.3}
      />

      {/* ticks point into the frame */}
      <g stroke="#000" strokeWidth={1.2}>
        {latMajorTicks.map((t) => (
          <line key={`bM${t}`} x1={x(t)} x2={x(t)} y1={frame.bottom} y2={frame.bottom - majorLen} />
        ))}
        {latMinorTicks.map((t) => (
          <line key={`bm${t}`} x1={x(t)} x2={x(t)} y1={frame.bottom} y2={frame.bottom - minorLen} />
        ))}
        {ageMajorTicks.map((t) => (
          <line key={`lM${t}`} x1={frame.left} x2={frame.left + majorLen} y1={y(t)} y2={y(t)} />
        ))}
        {ageMinorTicks.map((t) => (
          <line key={`lm${t}`} x1={frame.left} x2={frame.left + minorLen} y1={y(t)} y2={y(t)} />
        ))}
        {ageMajorTicks.map((t) => (
          <line key={`rM${t}`} x1={frame.right} x2={frame.right - rightMajor} y1={y(t)} y2={y(t)} />
        ))}
        {ageMinorTicks.map((t) => (
          <line key={`rm${t}`} x1={frame.right} x2={frame.right - rightMinor} y1={y(t)} y2={y(t)} />
        ))}
      </g>

      <g fontFamily={FONT} fontSize={36} fill="#000">
        {latMajorTicks.map((t) => (
          <text key={`bl${t}`} x={x(t)} y={997} textAnchor="middle">
            {t}
          </text>
        ))}
        {ageMajorTicks.map((t) => (
          <text
            key={`ll${t}`}
            transform={`translate(${110},${y(t)}) rotate(-90)`}
            textAnchor="middle"
          >
            {t}
          </text>
        ))}
        <text x={(frame.left + frame.right) / 2} y={1043} textAnchor="middle">
          Latitude (degrees)
        </text>
        <text
          transform={`translate(${45},${(frame.top + frame.bottom) / 2}) rotate(-90)`}
          textAnchor="middle"
        >
          Mean Age (yr)
        </text>
      </g>

      {/* legend */}
      <g>
        <rect x={534} y={42} width={336} height={104} fill="#fff" stroke="#000" strokeWidth={1.1} />
        <path d={legendTriangle} transform="translate(563,73)" fill="#000" />
        <circle cx={562} cy={112} r={5} fill="none" stroke="#000" strokeWidth={1.1} />
        <g fontFamily={FONT} fontSize={28} fill="#000">
          <text x={605} y={82}>
            Age from CO<tspan fontSize={20} dy={6}>2</tspan>
          </text>
          <text x={605} y={122}>
            Age from SF<tspan fontSize={20} dy={6}>6</tspan>
          </text>
        </g>
      </g>
    </svg>
  );
}
